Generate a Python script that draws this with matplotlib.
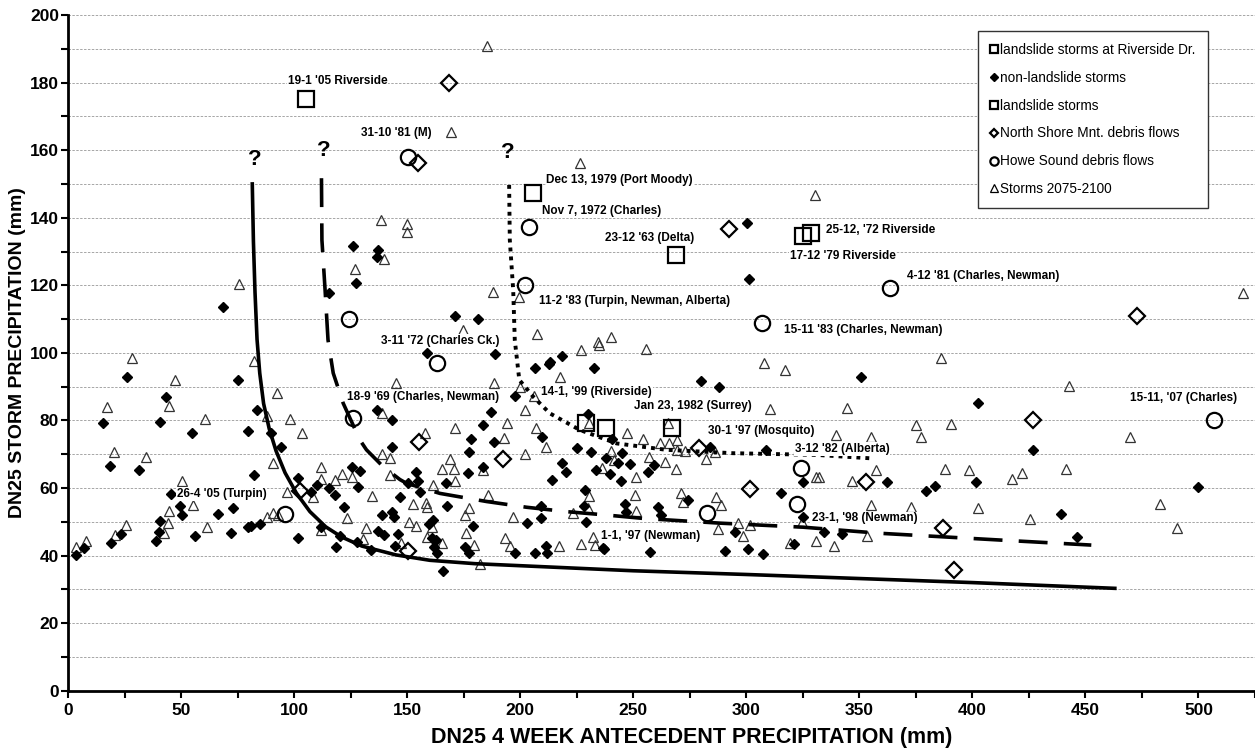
import matplotlib
matplotlib.use("Agg")
import matplotlib.pyplot as plt
from matplotlib.lines import Line2D
from matplotlib.ticker import MultipleLocator

plt.rcParams['font.family'] = ['Liberation Sans', 'DejaVu Sans']

# ---- data ----
riverside = [(105.2, 175.1), (325.1, 134.5), (328.5, 135.4), (229.3, 79.2)]
landslide = [(205.7, 147.4), (268.8, 128.9), (237.8, 77.7), (267.1, 77.7)]

howe_sound = [(150.5, 158.1), (203.9, 137.4), (202, 120.1), (363.7, 119.1), (306.9, 108.8),
              (124.4, 110.0), (163.3, 97.1), (126.1, 80.8), (506.8, 80.1), (324.3, 65.8),
              (322.6, 55.3), (282.6, 52.7), (95.9, 52.2)]

north_shore = [(168.6, 180.0), (154.8, 156.1), (292.3, 136.6), (472.7, 111.0), (426.8, 80.1),
               (155.3, 73.5), (192.2, 68.5), (279.1, 71.8), (301.5, 59.7), (352.8, 61.9),
               (387, 48.1), (392, 35.7), (102.6, 59.2), (150.4, 41.4)]

non_landslide = [
    (15.6, 79.2), (18.6, 66.6), (25.9, 92.8), (31.5, 65.3), (40.7, 79.6), (43.2, 86.9), (55, 76.2),
    (68.7, 113.5), (75, 92.0), (79.4, 76.9), (82.3, 63.9), (83.8, 83.1), (89.6, 76.2), (94.2, 72.1),
    (126.1, 131.6), (127.2, 120.6), (115.5, 117.8), (136.9, 130.5), (136.5, 128.5), (136.5, 83.1),
    (143.1, 80.1), (143.5, 72.1), (125.8, 66.3), (129.1, 65.0), (101.8, 62.9), (300.3, 138.5),
    (171.1, 111.0), (181.4, 109.9), (188.8, 99.6), (218.5, 99.1), (213.4, 97.4), (212.8, 96.7),
    (206.5, 95.4), (232.5, 95.6), (279.8, 91.8), (287.9, 89.8), (301.1, 121.9), (197.6, 87.3),
    (187.3, 82.4), (183.6, 78.7), (178.4, 74.5), (188.3, 73.5), (177.2, 70.7), (209.8, 75.0),
    (224.9, 71.9), (231.1, 70.6), (229.9, 81.9), (240.8, 74.5), (245.2, 70.3), (238.1, 68.8),
    (243.3, 67.5), (248.5, 67.1), (259.2, 66.8), (233.7, 65.3), (239.9, 64.1), (256.5, 64.6),
    (218.5, 67.5), (220.2, 64.6), (214.1, 62.4), (177, 64.4), (167.4, 61.4), (153.7, 64.8),
    (283.8, 72.2), (308.9, 71.3), (325.2, 61.9), (158.8, 99.9),
    (350.9, 93.0), (402.4, 85.1), (426.8, 71.1), (362.2, 61.7),
    (379.3, 59.2), (383.6, 60.7), (401.7, 61.7), (500, 60.2), (439, 52.2), (446.1, 45.4),
    (334.2, 46.9), (342.3, 46.4), (325, 51.5),
    (45.5, 58.2), (49.6, 54.7), (50.5, 52.0), (66.3, 52.3), (73.1, 54.0), (72.3, 46.6), (79.4, 48.6),
    (80.9, 48.8), (84.9, 49.3), (56.1, 45.8), (40.7, 50.3), (40.4, 47.1), (38.8, 44.3), (23.3, 46.4),
    (19, 43.6), (7.2, 42.2), (3.4, 40.2), (101.5, 45.3), (110, 60.9), (107.4, 58.9), (115.4, 59.9),
    (118.1, 57.9), (122, 54.5), (128.2, 60.4), (112.1, 48.4), (120.2, 45.8), (118.5, 42.5), (127.6, 44.1),
    (154.9, 62.1), (155.6, 58.9), (150.4, 61.6), (146.8, 57.4), (183.6, 66.3), (139, 52.0),
    (143.5, 53.0), (144.3, 51.3), (167.7, 54.7), (161.5, 50.5), (159.7, 49.3), (137.2, 47.4),
    (139.9, 46.1), (146, 46.3), (144.5, 42.9), (160.8, 45.3), (162.7, 44.6), (161.9, 42.6),
    (163.3, 40.9), (165.9, 35.4), (179.3, 48.8), (175.4, 42.6), (177.4, 40.9), (197.6, 40.7),
    (206.5, 40.9), (211.9, 40.7), (211.3, 42.8), (203.2, 49.6), (209.1, 51.0), (209.4, 54.7),
    (228.9, 50.0), (228.2, 54.7), (228.5, 59.4), (244.7, 62.1), (246.2, 55.3), (247, 53.0),
    (236.7, 42.2), (134, 41.7),
    (261, 54.3), (262.4, 52.0), (274.2, 56.5), (257.6, 41.1), (315.4, 58.6), (294.9, 47.1),
    (290.5, 41.4), (300.8, 41.9), (307.2, 40.5), (320.9, 43.3), (237, 41.9)]

storms_2075 = [
    (138.6, 139.3), (150, 138.2), (150, 135.9), (185.4, 190.9), (169.6, 165.5), (226.3, 156.1),
    (330.2, 146.7),
    (17.4, 83.9), (20.5, 70.6), (28.4, 98.4), (34.3, 69.1), (44.6, 84.3), (47.3, 92.0), (60.6, 80.5),
    (75.5, 120.3), (82.3, 97.6), (87.8, 81.4), (92.5, 88.0), (90.5, 67.3), (98.4, 80.5), (103.3, 76.4),
    (111.7, 66.3), (112.1, 62.6), (118, 62.4), (121, 64.1), (125.4, 63.2), (126.9, 124.8),
    (139.7, 127.7), (138.7, 70.1), (142.4, 68.8), (142.4, 63.9), (145, 91.0), (138.7, 82.3),
    (188, 117.9), (199.5, 116.5), (207.5, 105.6), (227.1, 100.9), (234.2, 103.3), (234.9, 102.3),
    (240.3, 104.8), (255.5, 101.2), (188.3, 91.0), (199.8, 90.0), (206.0, 87.2), (202.3, 83.1),
    (217.5, 93.0), (194.2, 79.2), (171.1, 77.7), (157.8, 76.4), (192.7, 74.9), (207.2, 77.9),
    (211.2, 72.2), (202.3, 70.1), (168.9, 68.5), (170.9, 65.6), (165.2, 65.5), (183.6, 65.3),
    (171.1, 62.2), (161.5, 60.9), (230.5, 79.3), (247.4, 76.2), (254.1, 74.4), (240, 71.0),
    (241.5, 68.3), (257, 69.1), (264, 67.8), (269, 65.5), (251, 63.2), (236, 66.0), (261.7, 73.3),
    (265.8, 73.4), (269.5, 74.2), (269.5, 71.3), (272.8, 71.0), (265.4, 79.2), (282.3, 68.5),
    (286, 70.8), (307.7, 97.1), (317, 94.9), (310.3, 83.3), (331, 63.4), (174.8, 106.8),
    (519.9, 117.6), (386, 98.4), (442.7, 90.2), (344.7, 83.8), (375.2, 78.5), (390.7, 79.0),
    (377.4, 75.2), (469.5, 75.2), (357.5, 65.3), (388, 65.5), (398.5, 65.3), (422.1, 64.4),
    (417.5, 62.7), (441.5, 65.5), (332, 63.2), (346.7, 62.2), (339.8, 75.7), (355, 75.2),
    (482.8, 55.3), (490.4, 48.1), (402.7, 54.0), (425.7, 50.8), (353.4, 45.9), (331, 44.3),
    (338.7, 42.8), (355.3, 55.0), (373, 54.5),
    (3.4, 42.6), (8, 44.4), (25.6, 49.1), (20.8, 46.1), (44.7, 53.2), (44.3, 49.7), (42.6, 46.8),
    (55.1, 55.0), (61.6, 48.6), (50.2, 62.2), (87.8, 51.5), (90.5, 52.5), (93, 52.0), (96.7, 58.9),
    (108.4, 57.3), (123.5, 51.0), (111.7, 47.6),
    (134.3, 57.6), (152.7, 55.2), (158.3, 55.7), (158.8, 54.3), (150.9, 50.0), (153.8, 48.8),
    (131.7, 48.3), (130.5, 44.8), (147.2, 43.8), (158.8, 45.6), (165.2, 43.6), (160.8, 48.6),
    (176.2, 46.8), (179.5, 43.1), (175.5, 52.0), (177.4, 54.0), (185.8, 57.9), (196.6, 51.5),
    (193.2, 45.1), (195.4, 42.9), (182.4, 37.5), (230.5, 57.6), (229.9, 54.0), (223.4, 52.5),
    (217.2, 42.9), (227.1, 43.3), (232.9, 43.1), (232.1, 45.4), (250.7, 57.9), (251.4, 53.3),
    (271, 58.6), (272.1, 56.0), (286.8, 57.4), (288.6, 55.0), (287.4, 47.8), (296.3, 49.7),
    (298.5, 45.8), (301.8, 49.1), (319.2, 43.8), (324.8, 49.8)]

# threshold curves
solid_x = [81.5, 82, 82.7, 83.6, 84.8, 86.5, 89, 92, 96, 101, 107, 114, 121, 130, 145, 160, 180, 200,
           250, 300, 350, 400, 463]
solid_y = [150, 133, 118, 104, 94, 85, 77.5, 71, 64.5, 58.5, 53, 48.5, 45.5, 42.8, 40.2, 38.6, 37.6,
           37, 35.5, 34.4, 33.2, 32, 30.3]
dash_x = [112.1, 112.3, 113.7, 115, 117.3, 121.7, 129.1, 132, 139.4, 146.8, 149.7, 164.5, 185.1, 202.8,
          220.5, 238.1, 254.3, 288.2, 325.1, 359, 412, 452.6]
dash_y = [151.7, 133.4, 118.6, 103.8, 94.0, 85.1, 74.2, 71.3, 66.3, 62.5, 61.4, 58.4, 56.0, 54.3,
          53.0, 52.0, 51.0, 49.6, 48.4, 46.6, 44.6, 43.1]
dot_x = [195.1, 195.4, 196.9, 197.6, 199.6, 205.8, 213.1, 226.3, 242.6, 264.6, 294.1, 331, 354.6]
dot_y = [149.7, 133.4, 118.6, 103.8, 92.0, 87.0, 82.1, 77.2, 73.2, 71.3, 70.3, 69.8, 68.8]

# event labels: text, left x, centre y
labels = [
    ("19-1 '05 Riverside", 97.3, 180.5), ("31-10 '81 (M)", 129.8, 165.2),
    ("Dec 13, 1979 (Port Moody)", 211.6, 151.2), ("Nov 7, 1972 (Charles)", 209.8, 142.1),
    ("23-12 '63 (Delta)", 237.7, 134.1), ("25-12, '72 Riverside", 335.1, 136.4),
    ("17-12 '79 Riverside", 319.2, 128.7), ("4-12 '81 (Charles, Newman)", 371.1, 122.8),
    ("11-2 '83 (Turpin, Newman, Alberta)", 208.4, 115.4), ("15-11 '83 (Charles, Newman)", 316.5, 106.8),
    ("3-11 '72 (Charles Ck.)", 138.4, 103.6), ("18-9 '69 (Charles, Newman)", 123.6, 86.8),
    ("14-1, '99 (Riverside)", 209.4, 88.5), ("Jan 23, 1982 (Surrey)", 250.4, 84.3),
    ("30-1 '97 (Mosquito)", 283.1, 76.9), ("3-12 '82 (Alberta)", 321.4, 71.6),
    ("15-11, '07 (Charles)", 469.5, 86.6), ("26-4 '05 (Turpin)", 48.0, 58.2),
    ("1-1, '97 (Newman)", 235.9, 45.8), ("23-1, '98 (Newman)", 329.2, 51.0)]
question_marks = [(82.4, 154.2), (113, 156.9), (194.7, 156.1)]


def xs(pts):
    return [p[0] for p in pts]


def ys(pts):
    return [p[1] for p in pts]


fig = plt.figure(figsize=(12.55, 7.51), dpi=100)
ax = fig.add_axes([0.0542, 0.0803, 0.9458, 0.8997])

ax.plot(xs(storms_2075), ys(storms_2075), ls='none', marker='^', ms=6.5, mfc='none',
        mec='#333333', mew=0.9, zorder=3)
ax.plot(xs(non_landslide), ys(non_landslide), ls='none', marker='D', ms=4.7, color='black', zorder=3)
ax.plot(xs(north_shore), ys(north_shore), ls='none', marker='D', ms=8, mfc='none', mec='black',
        mew=1.6, zorder=4)
ax.plot(xs(howe_sound), ys(howe_sound), ls='none', marker='o', ms=11, mfc='none', mec='black',
        mew=1.6, zorder=4)
ax.plot(xs(landslide), ys(landslide), ls='none', marker='s', ms=12, mfc='none', mec='black',
        mew=1.6, zorder=4)
ax.plot(xs(riverside), ys(riverside), ls='none', marker='s', ms=12, mfc='none', mec='black',
        mew=1.6, zorder=4)

ax.plot(solid_x, solid_y, color='black', lw=2.6, zorder=5)
ax.plot(dash_x, dash_y, color='black', lw=2.6, dashes=(8, 4.5), zorder=5)
ax.plot(dot_x, dot_y, color='black', lw=2.8, dashes=(1, 1.3), zorder=5)

for x, y in question_marks:
    ax.text(x, y, "?", ha='center', va='bottom', fontsize=16, fontweight='bold', zorder=6)

for t, x, y in labels:
    ax.text(x, y, t, ha='left', va='center', fontsize=8.5, fontweight='bold', zorder=6,
            bbox=dict(fc='white', ec='none', pad=0.6))

ax.set_xlim(0, 525)
ax.set_ylim(0, 200)
ax.xaxis.set_major_locator(MultipleLocator(50))
ax.xaxis.set_minor_locator(MultipleLocator(25))
ax.yaxis.set_major_locator(MultipleLocator(20))
ax.yaxis.set_minor_locator(MultipleLocator(10))
ax.tick_params(which='both', direction='out', width=1.5, length=5, labelsize=12.5, pad=4)
ax.tick_params(axis='y', which='both', pad=1.5)
for lab in ax.get_xticklabels() + ax.get_yticklabels():
    lab.set_fontweight('bold')
ax.yaxis.grid(True, which='both', color='#a6a6a6', lw=0.7, dashes=(2.5, 1.5))
ax.set_axisbelow(True)
for s in ['top', 'right']:
    ax.spines[s].set_visible(False)
for s in ['left', 'bottom']:
    ax.spines[s].set_linewidth(2)

fig.text(692 / 1255, 1 - 738 / 751, "DN25 4 WEEK ANTECEDENT PRECIPITATION (mm)", ha='center',
         va='center', fontsize=15.5, fontweight='bold')
fig.text(18 / 1255, 1 - 353 / 751, "DN25 STORM PRECIPITATION (mm)", ha='center', va='center',
         rotation=90, fontsize=14, fontweight='bold')

handles = [
    Line2D([], [], ls='none', marker='s', ms=6, mfc='none', mec='black', mew=1.6),
    Line2D([], [], ls='none', marker='D', ms=4, color='black'),
    Line2D([], [], ls='none', marker='s', ms=6, mfc='none', mec='black', mew=1.6),
    Line2D([], [], ls='none', marker='D', ms=4.5, mfc='none', mec='black', mew=1.6),
    Line2D([], [], ls='none', marker='o', ms=6, mfc='none', mec='black', mew=1.6),
    Line2D([], [], ls='none', marker='^', ms=6, mfc='none', mec='black', mew=0.9),
]
names = ["landslide storms at Riverside Dr.", "non-landslide storms", "landslide storms",
         "North Shore Mnt. debris flows", "Howe Sound debris flows", "Storms 2075-2100"]
leg = ax.legend(handles, names, loc='upper left', bbox_to_anchor=(0.7665, 0.977), fontsize=9.8,
                frameon=True, fancybox=False, framealpha=1, edgecolor='#333333',
                handlelength=0.6, handletextpad=0.15, labelspacing=1.02, borderpad=0.9,
                borderaxespad=0)
leg.get_frame().set_linewidth(1)
leg.set_zorder(10)

fig.savefig("out.png", dpi=100)
